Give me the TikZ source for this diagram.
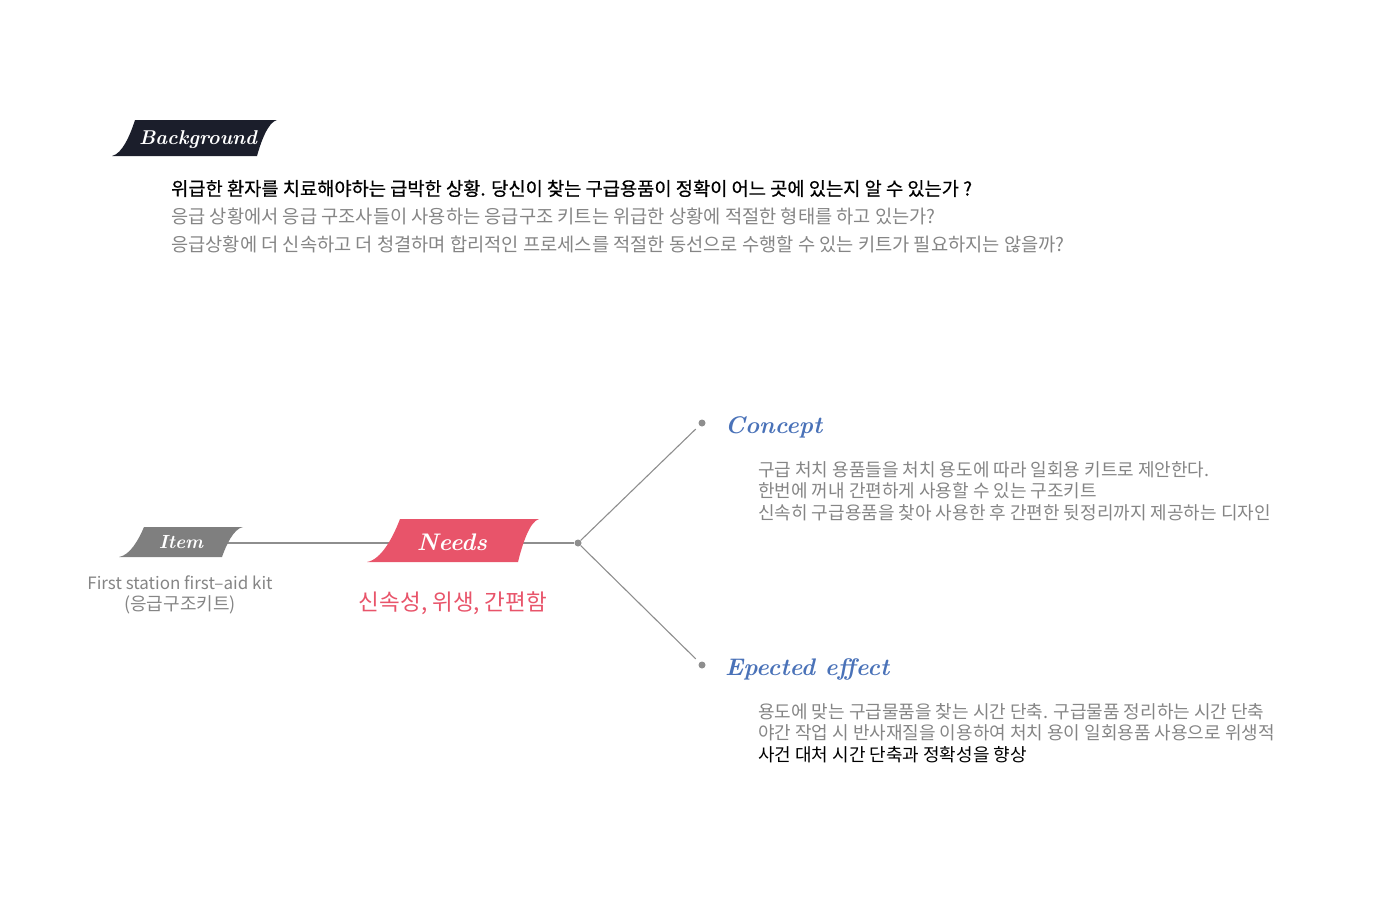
\documentclass[tikz,border=0pt]{standalone}
\usepackage{fontspec}
\newfontfamily\krfont{Noto Sans CJK KR}
\newfontfamily\krfontmed[FakeBold=0.6]{Noto Sans CJK KR}
\usetikzlibrary{positioning}

\definecolor{bannerdark}{HTML}{1B1E2B}
\definecolor{bannergray}{HTML}{7F7F7F}
\definecolor{needsred}{HTML}{E8546A}
\definecolor{titleblue}{HTML}{4A72B8}
\definecolor{bodygray}{HTML}{858585}
\definecolor{wiregray}{HTML}{8E8E8E}

\pgfdeclarelayer{back}
\pgfsetlayers{back,main}

% ribbon: colour, tip x, top-left x, top-right x, bottom-right x, top y, bottom y
\newcommand{\ribbon}[7]{%
  \fill[#1] (#2,#7) .. controls ({#2+0.45*(#3-#2)},{#7-0.06*(#7-#6)}) and ({#2+0.8*(#3-#2)},{#7-0.6*(#7-#6)}) .. (#3,#6)
    -- (#4,#6) .. controls ({#4-0.45*(#4-#5)},{#6+0.06*(#7-#6)}) and ({#4-0.8*(#4-#5)},{#6+0.6*(#7-#6)}) .. (#5,#7) -- cycle;}

\tikzset{
  tagtext/.style={font=\fontsize{#1}{#1}\selectfont\bfseries\itshape, text=white, inner sep=0pt, anchor=base},
  body/.style={font=\krfont\fontsize{18}{20}\selectfont, text=bodygray, anchor=base west, inner sep=0pt},
  bgbody/.style={body, font=\krfont\fontsize{18.7}{20}\selectfont},
  wire/.style={draw=wiregray, line width=1.1pt},
  dot/.style={circle, fill=wiregray, inner sep=0pt, minimum size=7pt}
}

\begin{document}
\begin{tikzpicture}[x=1pt, y=-1pt]
  \useasboundingbox (0,0) rectangle (1400,910);

  % background
  \ribbon{bannerdark}{112}{135}{277}{257}{120}{156}
  \node[tagtext=20] (bgtag) at (198,144) {Background};
  \node[bgbody, text=black, font=\krfontmed\fontsize{18.7}{20}\selectfont] (bgline1) at (171,195.5) {위급한 환자를 치료해야하는 급박한 상황. 당신이 찾는 구급용품이 정확이 어느 곳에 있는지 알 수 있는가 ?};
  \node[bgbody] (bgline2) at (171,223.5) {응급 상황에서 응급 구조사들이 사용하는 응급구조 키트는 위급한 상황에 적절한 형태를 하고 있는가?};
  \node[bgbody] (bgline3) at (171,251.5) {응급상황에 더 신속하고 더 청결하며 합리적인 프로세스를 적절한 동선으로 수행할 수 있는 키트가 필요하지는 않을까?};

  % item and needs
  \ribbon{bannergray}{119}{144}{243}{222}{527}{557}
  \node[tagtext=19] (itemtag) at (181,548) {Item};
  \ribbon{needsred}{367}{400}{539}{518}{519}{562}
  \node[tagtext=24] (needstag) at (452,550) {Needs};

  \node[body, anchor=base, font=\krfont\fontsize{17}{20}\selectfont] (itemsub1) at (180,589) {First station first–aid kit};
  \node[body, anchor=base] (itemsub2) at (180,610) {(응급구조키트)};
  \node[body, anchor=base, text=needsred, font=\krfont\fontsize{22.5}{24}\selectfont] (needssub) at (453,610) {신속성, 위생, 간편함};

  % branches
  \node[dot] (hub) at (578,543) {};
  \node[dot] (conceptdot) at (702,423) {};
  \node[dot] (effectdot) at (702,665) {};
  \begin{pgfonlayer}{back}
    \draw[wire] (itemtag.center |- hub) -- (needstag.center |- hub) -- (hub);
  \end{pgfonlayer}
  \draw[wire, shorten >=5pt] (hub) -- (conceptdot);
  \draw[wire, shorten >=5pt] (hub) -- (effectdot);

  % concept
  \node[tagtext=24, text=titleblue, anchor=base west] (concepttitle) at (725,433) {Concept};
  \node[body] (concept1) at (758,476.5) {구급 처치 용품들을 처치 용도에 따라 일회용 키트로 제안한다.};
  \node[body] (concept2) at (758,497.5) {한번에 꺼내 간편하게 사용할 수 있는 구조키트};
  \node[body] (concept3) at (758,519.5) {신속히 구급용품을 찾아 사용한 후 간편한 뒷정리까지 제공하는 디자인};

  % expected effect
  \node[tagtext=24, text=titleblue, anchor=base west] (effecttitle) at (725,675) {Epected effect};
  \node[body] (effect1) at (758,718.5) {용도에 맞는 구급물품을 찾는 시간 단축. 구급물품 정리하는 시간 단축};
  \node[body] (effect2) at (758,739.5) {야간 작업 시 반사재질을 이용하여 처치 용이 일회용품 사용으로 위생적};
  \node[body, text=black] (effect3) at (758,761.5) {사건 대처 시간 단축과 정확성을 향상};
\end{tikzpicture}
\end{document}
